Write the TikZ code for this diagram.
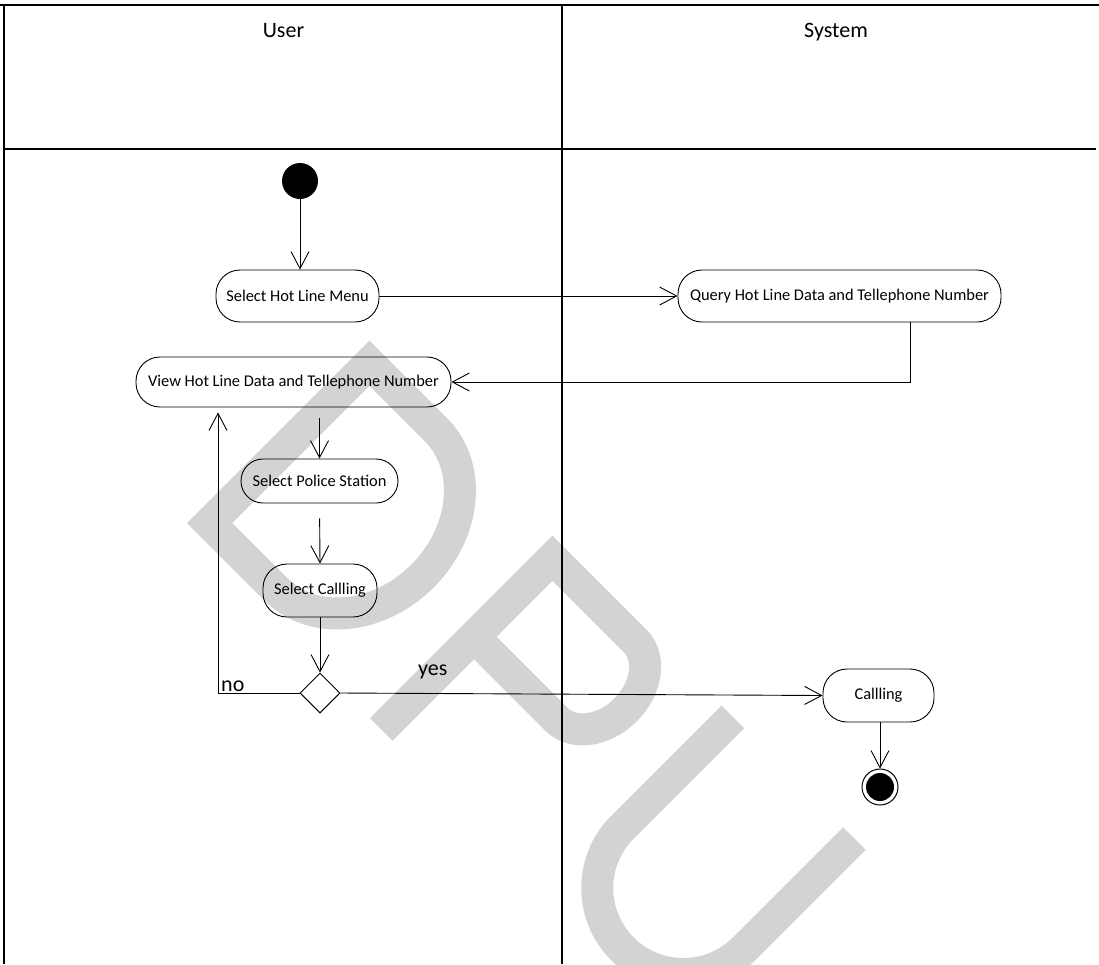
\documentclass[tikz,border=0pt]{standalone}
\usepackage{fontspec}
\setmainfont{Carlito}
\usetikzlibrary{arrows.meta,shapes.geometric}

\definecolor{markgray}{RGB}{211,211,211}

\tikzset{
  lane/.style={line width=1.3pt},
  action/.style={draw, line width=0.9pt, rectangle, rounded corners=24pt,
    inner sep=0pt, font=\fontsize{16.4}{19}\selectfont},
  flow/.style={line width=0.9pt, -{Straight Barb[length=17pt,width=18pt,line width=0.9pt]}},
  choice/.style={draw, line width=1pt, diamond, minimum width=40pt, minimum height=40pt, inner sep=0pt},
  headtext/.style={font=\fontsize{22}{26}\selectfont, anchor=base},
  guard/.style={font=\fontsize{22}{26}\selectfont, anchor=base west, inner sep=0pt},
  letterstroke/.style={draw=markgray, line width=32pt, line join=miter, line cap=butt},
}

\begin{document}
\begin{tikzpicture}[x=1pt,y=-1pt]
\useasboundingbox (0,0) rectangle (1099,964);

% background mark "DPU", letters set along a 45 degree diagonal
\begin{scope}[shift={(187,523)}, x=1pt, y=1pt, rotate=-45]
  \draw[letterstroke] (16,16) -- (16,242) -- (110,242)
      arc[start angle=90, end angle=-90, x radius=94, y radius=113] -- cycle;
\end{scope}
\begin{scope}[shift={(370,718)}, x=1pt, y=1pt, rotate=-45]
  \draw[letterstroke] (16,0) -- (16,242) -- (133,242)
      arc[start angle=90, end angle=-90, x radius=42, y radius=55.5] -- (16,131);
\end{scope}
\begin{scope}[shift={(539,888)}, x=1pt, y=1pt, rotate=-45]
  \draw[letterstroke] (16,258) -- (16,102)
      arc[start angle=180, end angle=360, radius=86] -- (188,258);
\end{scope}

% swimlane frame
\draw[lane] (0,5) -- (1099,5);
\draw[lane] (4,149) -- (1096,149);
\draw[lane] (4,5) -- (4,964);
\draw[lane] (562,5) -- (562,964);
\node[headtext] (userhead) at (283.5,37) {User};
\node[headtext] (syshead) at (836,37) {System};

% activity nodes
\node[circle, fill=black, minimum size=36pt, inner sep=0pt] (start) at (300,181) {};
\node[action, minimum width=163pt, minimum height=52pt] (hot) at (297.5,296) {Select Hot Line Menu};
\node[action, minimum width=323pt, minimum height=52pt] (query) at (839.5,296) {Query Hot Line Data and Tellephone Number};
\node[action, minimum width=315pt, minimum height=50pt] (view) at (293.5,382) {View Hot Line Data and Tellephone Number};
\node[action, minimum width=157pt, minimum height=44pt, rounded corners=22pt] (police) at (319.5,481) {Select Police Station};
\node[action, minimum width=114pt, minimum height=53pt] (selcall) at (320,590.5) {Select Callling};
\node[choice] (decide) at (320,693) {};
\node[action, minimum width=111pt, minimum height=53pt] (calling) at (878.5,695.5) {Callling};
\node[circle, draw, line width=1pt, minimum size=36pt, inner sep=0pt] (finish) at (880,787) {};
\node[circle, fill=black, minimum size=28pt, inner sep=0pt] (finishdot) at (finish) {};

% helper points for elbow connectors
\coordinate (qdown) at (910,322);
\coordinate (noturn) at (218,693);

% control flow
\draw[flow] (start.south) -- (start.south |- hot.north);
\draw[flow] (hot.east) -- (query.west);
\draw[flow] (qdown) |- (view.east);
\draw[flow, shorten <=11pt] (view.south -| police.north) -- (police.north);
\draw[flow, shorten <=15pt] (police.south) -- (selcall.north);
\draw[flow] (selcall.south) -- (decide.north);
\draw[flow, shorten >=5pt] (decide.west) -- (noturn) -- (noturn |- view.south);
\draw[flow] (decide.east) -- (calling.west);
\draw[flow] (calling.south -| finish.north) -- (finish.north);

% guard labels
\node[guard] (nolabel) at (221,691) {no};
\node[guard] (yeslabel) at (418,675) {yes};
\end{tikzpicture}
\end{document}
